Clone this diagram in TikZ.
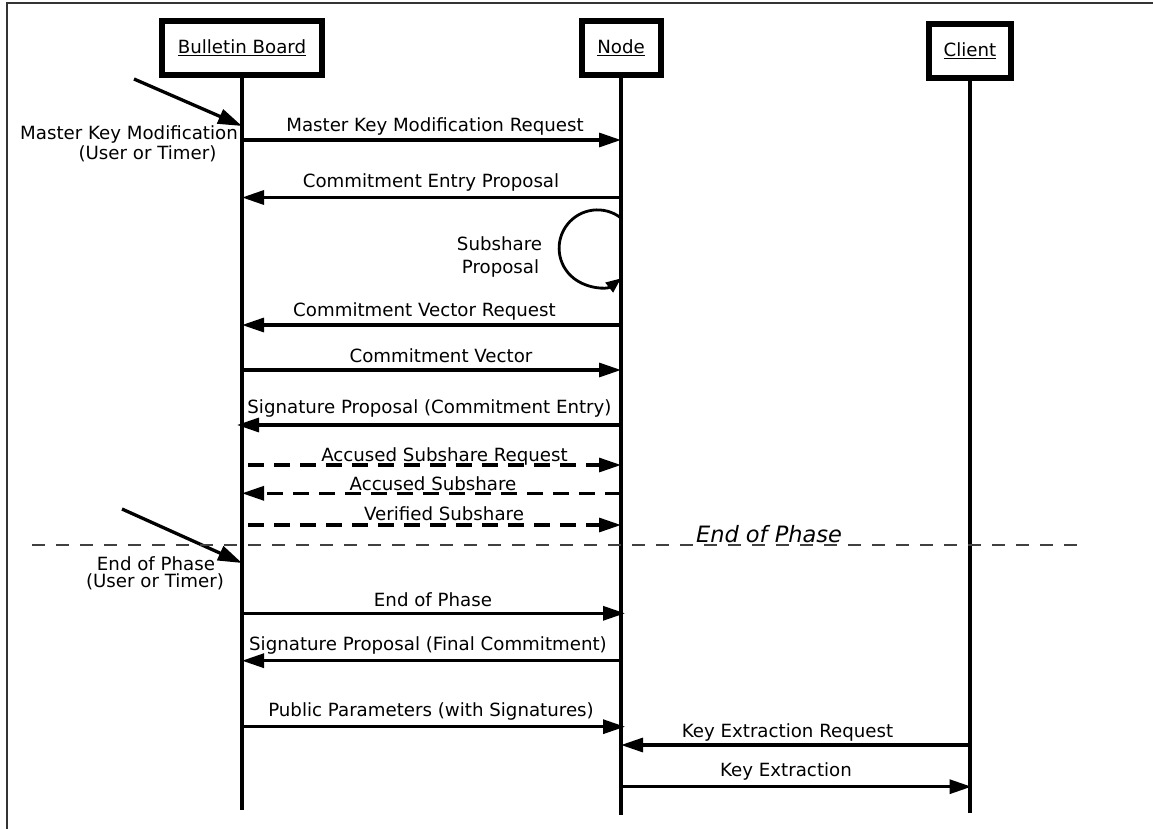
\documentclass[tikz,border=0pt]{standalone}
\usepackage{fontspec}
\setmainfont{DejaVu Sans}
\usetikzlibrary{arrows.meta}
\begin{document}
\begin{tikzpicture}[x=1pt,y=1pt,
  font=\fontsize{18.2}{21.8}\selectfont,
  actor/.style={draw, line width=6pt, minimum height=54pt, inner sep=0pt, fill=white},
  life/.style={line width=3.3pt},
  msg/.style={line width=3.2pt, -{Triangle[length=22pt,width=14pt]}},
  dmsg/.style={msg, dash pattern=on 16pt off 10pt},
  tag/.style={anchor=base, inner sep=0pt},
  kick/.style={line width=3.3pt, -{Triangle[length=24pt,width=15pt]}},
  selfloop/.style={line width=2.8pt, -{Triangle[length=15pt,width=12pt]}},
  phase/.style={line width=1.8pt, black!75, dash pattern=on 13pt off 11pt},
]
\useasboundingbox (0,0) rectangle (1153,-829);

% outer frame
\draw[line width=1.4pt, black!80] (7,-829) -- (7,-3) -- (1153,-3);

% lifelines
\coordinate (bbEnd) at (242,-810);
\coordinate (ndEnd) at (621,-815);
\coordinate (clEnd) at (970,-813);
\draw[life] (242,-48) -- (bbEnd);
\draw[life] (621,-48) -- (ndEnd);
\draw[life] (970,-51) -- (clEnd);

% participants
\node[actor, minimum width=160pt] (bb) at (242,-48) {\underline{Bulletin Board}};
\node[actor, minimum width=79pt] (nd) at (621,-48) {\underline{Node}};
\node[actor, minimum width=82pt] (cl) at (970,-51) {\underline{Client}};

% external triggers
\coordinate (k1) at (134,-79);
\draw[kick] (k1) -- (bb.south |- 0,-126);
\node[tag] (mk1) at (129,-139.3) {Master Key Modification};
\node[tag] (mk2) at (147.5,-159.3) {(User or Timer)};

\coordinate (k2) at (122,-509);
\draw[kick] (k2) -- (bb.south |- 0,-563);
\node[tag] (ep1) at (156,-570) {End of Phase};
\node[tag] (ep2) at (155,-587) {(User or Timer)};

% messages
\draw[msg] (bb.south |- 0,-140) -- (nd.south |- 0,-140)
  node[tag, pos=0.5, xshift=3.5pt, yshift=8.3pt] (l1) {Master Key Modification Request};
\draw[msg] (nd.south |- 0,-197.5) -- (bb.south |- 0,-197.5)
  node[tag, pos=0.5, xshift=-0.5pt, yshift=9.5pt] (l2) {Commitment Entry Proposal};

% self message
\draw[selfloop] (nd.south |- 0,-218) arc[start angle=52, end angle=308, radius=38.3];
\node[tag] (sp1) at (499.5,-250.7) {Subshare};
\node[tag] (sp2) at (500.5,-273.3) {Proposal};

\draw[msg] (nd.south |- 0,-325) -- (bb.south |- 0,-325)
  node[tag, pos=0.5, xshift=-7pt, yshift=8.3pt] (l3) {Commitment Vector Request};
\draw[msg] (bb.south |- 0,-370) -- (nd.south |- 0,-370)
  node[tag, pos=0.5, xshift=9.5pt, yshift=7.3pt] (l4) {Commitment Vector};
\draw[msg, shorten >=-5pt] (nd.south |- 0,-425) -- (bb.south |- 0,-425)
  node[tag, pos=0.5, xshift=-2pt, yshift=11.7pt] (l5) {Signature Proposal (Commitment Entry)};

% accusation round
\draw[dmsg, shorten <=6pt] (bb.south |- 0,-465) -- (nd.south |- 0,-465)
  node[tag, pos=0.5, xshift=13pt, yshift=3.3pt] (l6) {Accused Subshare Request};
\draw[dmsg] (nd.south |- 0,-493.3) -- (bb.south |- 0,-493.3)
  node[tag, pos=0.5, xshift=1.5pt, yshift=3.3pt] (l7) {Accused Subshare};
\draw[dmsg, shorten <=6pt] (bb.south |- 0,-525) -- (nd.south |- 0,-525)
  node[tag, pos=0.5, xshift=12.5pt, yshift=4.3pt] (l8) {Verified Subshare};

% phase separator
\coordinate (sepL) at (32,-545);
\coordinate (sepR) at (1085,-545);
\draw[phase] (sepL) -- (sepR);
\node[tag, font=\fontsize{22.5}{27}\selectfont\itshape] (eop) at (769,-542) {End of Phase};

% final round
\draw[msg, shorten >=-4pt] (bb.south |- 0,-613.3) -- (nd.south |- 0,-613.3)
  node[tag, pos=0.5, xshift=1.5pt, yshift=6.6pt] (l9) {End of Phase};
\draw[msg] (nd.south |- 0,-660.7) -- (bb.south |- 0,-660.7)
  node[tag, pos=0.5, xshift=-3.5pt, yshift=10.7pt] (l10) {Signature Proposal (Final Commitment)};
\draw[msg, shorten >=-4pt] (bb.south |- 0,-726.7) -- (nd.south |- 0,-726.7)
  node[tag, pos=0.5, xshift=-0.5pt, yshift=10pt] (l11) {Public Parameters (with Signatures)};

% key extraction
\draw[msg] (cl.south |- 0,-745) -- (nd.south |- 0,-745)
  node[tag, pos=0.5, xshift=-8pt, yshift=8pt] (l12) {Key Extraction Request};
\draw[msg, shorten >=-1.5pt] (nd.south |- 0,-786.7) -- (cl.south |- 0,-786.7)
  node[tag, pos=0.5, xshift=-9.5pt, yshift=10.7pt] (l13) {Key Extraction};
\end{tikzpicture}
\end{document}
